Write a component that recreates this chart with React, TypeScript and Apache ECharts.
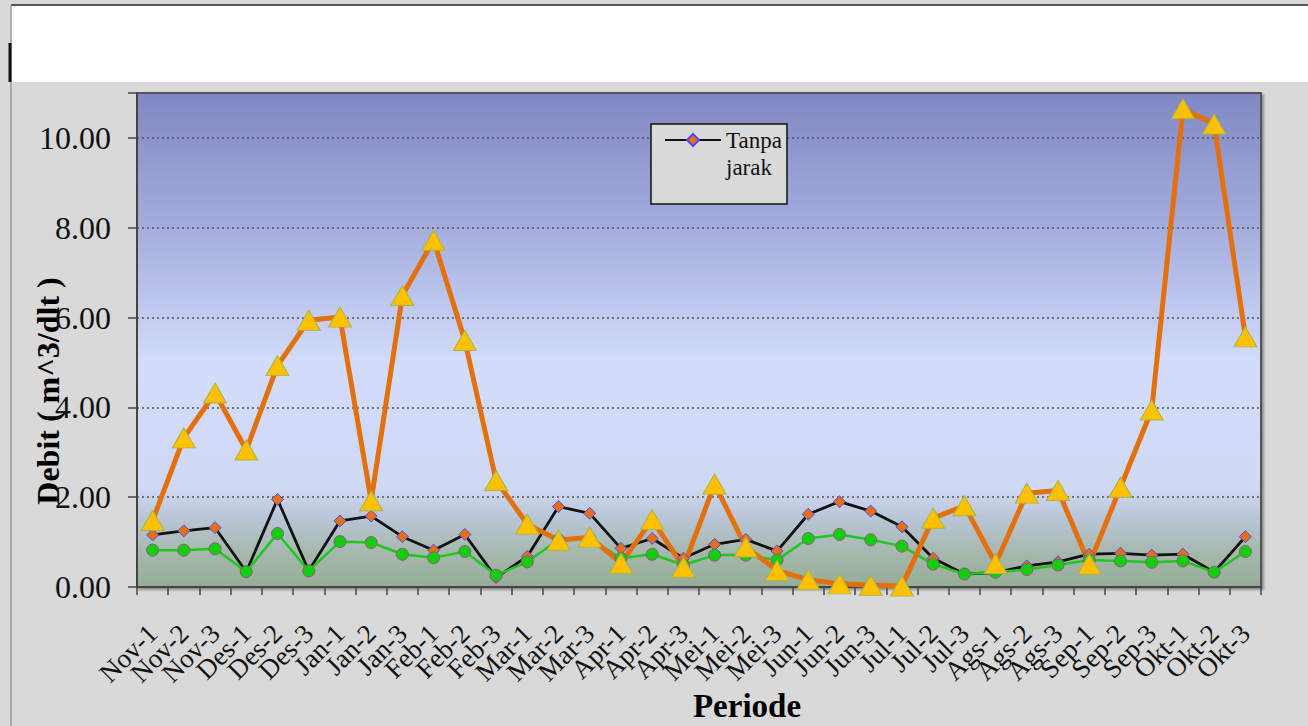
import React, { useEffect, useRef } from "react";
import * as echarts from "echarts";

const categories = [
  "Nov-1", "Nov-2", "Nov-3", "Des-1", "Des-2", "Des-3",
  "Jan-1", "Jan-2", "Jan-3", "Feb-1", "Feb-2", "Feb-3",
  "Mar-1", "Mar-2", "Mar-3", "Apr-1", "Apr-2", "Apr-3",
  "Mei-1", "Mei-2", "Mei-3", "Jun-1", "Jun-2", "Jun-3",
  "Jul-1", "Jul-2", "Jul-3", "Ags-1", "Ags-2", "Ags-3",
  "Sep-1", "Sep-2", "Sep-3", "Okt-1", "Okt-2", "Okt-3",
];

const tanpaJarak = [
  1.16, 1.25, 1.32, 0.34, 1.95, 0.36, 1.47, 1.58, 1.12, 0.82, 1.17, 0.21,
  0.68, 1.79, 1.64, 0.86, 1.08, 0.64, 0.95, 1.06, 0.8, 1.62, 1.9, 1.69,
  1.34, 0.64, 0.29, 0.32, 0.47, 0.56, 0.73, 0.75, 0.71, 0.73, 0.33, 1.12,
];

const seriesGreen = [
  0.82, 0.82, 0.85, 0.34, 1.19, 0.36, 1.01, 0.99, 0.73, 0.65, 0.79, 0.26,
  0.56, 1.05, 1.08, 0.64, 0.73, 0.49, 0.71, 0.71, 0.6, 1.08, 1.17, 1.05,
  0.91, 0.51, 0.29, 0.33, 0.39, 0.49, 0.6, 0.58, 0.55, 0.58, 0.33, 0.79,
];

const seriesOrange = [
  1.48, 3.32, 4.32, 3.05, 4.93, 5.94, 6.01, 1.92, 6.49, 7.72, 5.49, 2.37,
  1.4, 1.04, 1.11, 0.53, 1.5, 0.44, 2.29, 0.89, 0.37, 0.16, 0.07, 0.04,
  0.02, 1.53, 1.81, 0.52, 2.09, 2.15, 0.51, 2.22, 3.94, 10.65, 10.31, 5.57,
];

const yTicks = [0, 2, 4, 6, 8, 10];

const SERIF = "'Liberation Serif', 'Times New Roman', serif";

export default function App() {
  const ref = useRef<HTMLDivElement>(null);

  useEffect(() => {
    if (!ref.current) return;
    const chart = echarts.init(ref.current, undefined, { renderer: "svg" });

    const option: any = {
      animation: false,
      backgroundColor: "#d9d9d9",
      graphic: [
        {
          type: "rect",
          z: 0,
          shape: { x: 11, y: 5, width: 1297, height: 77 },
          style: { fill: "#ffffff" },
        },
        {
          type: "line",
          z: 1,
          shape: { x1: 11, y1: 5, x2: 1308, y2: 5 },
          style: { stroke: "#555555", lineWidth: 2 },
        },
        {
          type: "line",
          z: 1,
          shape: { x1: 11, y1: 5, x2: 11, y2: 726 },
          style: { stroke: "#9a9a9a", lineWidth: 1.5 },
        },
        {
          type: "line",
          z: 1,
          shape: { x1: 10, y1: 43, x2: 10, y2: 82 },
          style: { stroke: "#111111", lineWidth: 3 },
        },
        {
          type: "rect",
          z: 3,
          shape: { x: 651, y: 124, width: 136, height: 80 },
          style: { fill: "#d9d9d9", stroke: "#111111", lineWidth: 1.5 },
        },
      ],
      legend: {
        data: ["Tanpa jarak"],
        left: 664,
        top: 99.5,
        padding: 0,
        itemWidth: 56,
        itemHeight: 15,
        selectedMode: false,
        formatter: () => " \nTanpa\njarak",
        textStyle: {
          fontFamily: SERIF,
          fontSize: 23,
          lineHeight: 27,
          color: "#111",
        },
      },
      grid: {
        left: 137,
        right: 47,
        top: 93,
        bottom: 139,
        outerBoundsMode: "none",
        containLabel: false,
        show: true,
        borderColor: "#555",
        borderWidth: 2,
        shadowColor: "rgba(0,0,0,0.35)",
        shadowBlur: 2,
        shadowOffsetX: 2,
        shadowOffsetY: 2,
        backgroundColor: {
          type: "linear",
          x: 0,
          y: 0,
          x2: 0,
          y2: 1,
          colorStops: [
            { offset: 0, color: "#8087c3" },
            { offset: 0.3, color: "#a9b1e0" },
            { offset: 0.55, color: "#d3ddfb" },
            { offset: 0.8, color: "#cfd9f4" },
            { offset: 0.86, color: "#b9c5d6" },
            { offset: 0.93, color: "#a6b8ae" },
            { offset: 1, color: "#96ac96" },
          ],
        },
      },
      xAxis: {
        type: "category",
        data: categories,
        boundaryGap: true,
        name: "Periode",
        nameLocation: "middle",
        nameGap: 102,
        nameMoveOverlap: false,
        nameTextStyle: {
          fontFamily: SERIF,
          fontWeight: "bold",
          fontSize: 33,
          color: "#000",
          padding: [0, 0, 0, 96],
        },
        axisLine: { show: true, lineStyle: { color: "#444", width: 2 } },
        axisTick: {
          show: true,
          alignWithLabel: false,
          length: 8,
          lineStyle: { color: "#444", width: 1.5 },
        },
        axisLabel: {
          interval: 0,
          rotate: 45,
          margin: 42,
          fontFamily: SERIF,
          fontSize: 27,
          color: "#111",
          padding: [24, 0, 0, 0],
        },
        splitLine: { show: false },
      },
      yAxis: {
        type: "value",
        min: 0,
        max: 11,
        interval: 2,
        name: "Debit ( m^3/dlt )",
        nameLocation: "middle",
        nameGap: 73,
        nameMoveOverlap: false,
        nameTextStyle: {
          fontFamily: SERIF,
          fontWeight: "bold",
          fontSize: 32,
          color: "#000",
          padding: [0, 102, 0, 0],
        },
        axisLine: { show: true, lineStyle: { color: "#444", width: 2 } },
        axisTick: {
          show: true,
          length: 9,
          lineStyle: { color: "#444", width: 1.5 },
        },
        axisLabel: {
          margin: 26,
          fontFamily: SERIF,
          fontSize: 32,
          color: "#111",
          formatter: (v: number) => (yTicks.indexOf(v) >= 0 ? v.toFixed(2) : ""),
        },
        splitLine: {
          show: true,
          lineStyle: { color: "#555", width: 1.5, type: [2, 3] },
        },
      },
      series: [
        {
          name: "Tanpa jarak",
          type: "line",
          data: tanpaJarak,
          symbol: "diamond",
          symbolSize: 12,
          lineStyle: { color: "#111111", width: 2.8 },
          itemStyle: { color: "#e8700c", borderColor: "#4a4aff", borderWidth: 1 },
          z: 2,
        },
        {
          name: "Seri 2",
          type: "line",
          data: seriesGreen,
          symbol: "circle",
          symbolSize: 12,
          lineStyle: { color: "#1ec81e", width: 2.5 },
          itemStyle: { color: "#0fcf0f", borderColor: "#a0507a", borderWidth: 1 },
          z: 2,
        },
        {
          name: "Seri 3",
          type: "line",
          data: seriesOrange,
          symbol: "triangle",
          symbolSize: [23, 20],
          lineStyle: { color: "#e3700b", width: 5 },
          itemStyle: { color: "#ffc000", borderColor: "#a8b44a", borderWidth: 1 },
          z: 2,
        },
      ],
    };

    chart.setOption(option);
    return () => chart.dispose();
  }, []);

  return (
    <div
      ref={ref}
      style={{ position: "fixed", left: 0, top: 0, width: 1308, height: 726 }}
    />
  );
}
